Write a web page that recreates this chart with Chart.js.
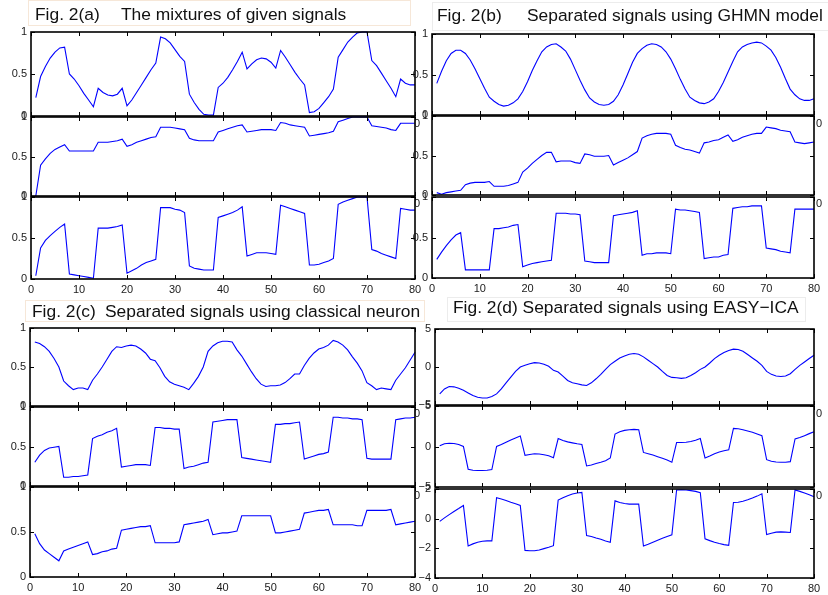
<!DOCTYPE html>
<html><head><meta charset="utf-8">
<script src="https://cdn.jsdelivr.net/npm/chart.js@4.4.1/dist/chart.umd.min.js"></script>
<style>
html,body{margin:0;padding:0;background:#fff;}
#wrap{position:relative;width:828px;height:595px;overflow:hidden;background:#fff;font-family:"Liberation Sans",Arial,Helvetica,sans-serif;}
#wrap canvas{position:absolute;left:0;top:0;}
.tbox{position:absolute;background:#fff;box-sizing:border-box;}
.tt{position:absolute;font-size:17.4px;line-height:17px;color:#111;white-space:pre;}
.st{position:absolute;font-size:11px;line-height:11px;color:#1a1a1a;white-space:pre;}
</style></head>
<body><div id="wrap"></div>
<script>
// ---- data ----
const steps = [1,2,3,4,5,6,7,8,9,10,11,12,13,14,15,16,17,18,19,20,21,22,23,24,25,26,27,28,29,30,31,32,33,34,35,36,37,38,39,40,41,42,43,44,45,46,47,48,49,50,51,52,53,54,55,56,57,58,59,60,61,62,63,64,65,66,67,68,69,70,71,72,73,74,75,76,77,78,79,80];
const xTickValues = [0,10,20,30,40,50,60,70,80];
const unitTicks = [0,0.5,1];
const easyTicks5 = [-5,0,5];
const easyTicks2 = [-4,-2,0,2];

// Fig. 2(a) mixtures
const mixture1 = [0.22,0.47,0.59,0.69,0.76,0.81,0.82,0.50,0.44,0.36, 0.27,0.19,0.11,0.33,0.28,0.25,0.24,0.26,0.33,0.12, 0.19,0.28,0.37,0.46,0.55,0.63,0.94,0.92,0.87,0.79, 0.71,0.65,0.26,0.16,0.08,0.02,0.01,0.01,0.34,0.39, 0.46,0.55,0.65,0.76,0.56,0.62,0.67,0.69,0.68,0.64, 0.57,0.78,0.70,0.61,0.52,0.44,0.37,0.04,0.05,0.09, 0.16,0.23,0.32,0.70,0.79,0.88,0.94,0.99,1.0,1.0, 0.66,0.60,0.51,0.42,0.33,0.23,0.44,0.39,0.37,0.37];
const mixture2 = [0.0,0.39,0.47,0.54,0.59,0.62,0.65,0.57,0.57,0.57, 0.57,0.57,0.57,0.68,0.68,0.68,0.69,0.70,0.72,0.63, 0.65,0.68,0.70,0.72,0.74,0.75,0.87,0.87,0.87,0.86, 0.85,0.84,0.73,0.71,0.70,0.70,0.70,0.70,0.81,0.83, 0.85,0.87,0.89,0.90,0.81,0.82,0.83,0.84,0.84,0.84, 0.83,0.93,0.92,0.90,0.89,0.88,0.87,0.76,0.77,0.78, 0.79,0.80,0.82,0.94,0.96,0.98,1.0,1.0,1.0,1.0, 0.89,0.88,0.87,0.86,0.84,0.83,0.92,0.92,0.92,0.92];
const mixture3 = [0.04,0.38,0.47,0.53,0.58,0.63,0.67,0.06,0.05,0.04, 0.03,0.02,0.01,0.62,0.62,0.62,0.63,0.64,0.66,0.07, 0.10,0.13,0.17,0.20,0.22,0.24,0.87,0.87,0.87,0.85, 0.84,0.81,0.16,0.13,0.12,0.11,0.11,0.11,0.75,0.77, 0.79,0.81,0.84,0.88,0.28,0.30,0.32,0.32,0.32,0.31, 0.30,0.90,0.88,0.86,0.84,0.82,0.80,0.17,0.17,0.18, 0.20,0.22,0.25,0.91,0.94,0.96,0.98,1.0,1.0,1.0, 0.36,0.34,0.31,0.29,0.27,0.25,0.86,0.85,0.84,0.84];

// Fig. 2(b) GHMN model
const ghmn1 = [0.39,0.54,0.67,0.76,0.80,0.80,0.76,0.68,0.57,0.45, 0.33,0.22,0.17,0.13,0.11,0.12,0.15,0.20,0.29,0.41, 0.55,0.67,0.78,0.84,0.87,0.88,0.84,0.79,0.69,0.56, 0.43,0.31,0.21,0.16,0.13,0.12,0.13,0.17,0.25,0.37, 0.51,0.65,0.76,0.82,0.86,0.88,0.87,0.84,0.78,0.69, 0.57,0.44,0.32,0.22,0.18,0.15,0.14,0.16,0.20,0.29, 0.40,0.53,0.66,0.78,0.84,0.87,0.89,0.90,0.89,0.85, 0.80,0.71,0.59,0.45,0.32,0.25,0.20,0.18,0.18,0.20];
const ghmn2 = [0.03,0.01,0.03,0.04,0.05,0.06,0.13,0.15,0.16,0.16, 0.16,0.17,0.11,0.11,0.11,0.12,0.14,0.16,0.29,0.34, 0.40,0.45,0.50,0.54,0.54,0.42,0.43,0.43,0.43,0.41, 0.40,0.52,0.51,0.49,0.49,0.49,0.50,0.38,0.41,0.44, 0.47,0.51,0.55,0.72,0.75,0.77,0.78,0.78,0.78,0.77, 0.63,0.60,0.58,0.57,0.55,0.53,0.66,0.67,0.69,0.70, 0.73,0.76,0.68,0.70,0.73,0.75,0.77,0.78,0.78,0.86, 0.85,0.84,0.82,0.81,0.80,0.67,0.66,0.65,0.66,0.67];
const ghmn3 = [0.23,0.32,0.40,0.47,0.53,0.56,0.10,0.10,0.10,0.10, 0.10,0.10,0.61,0.61,0.62,0.63,0.65,0.66,0.14,0.16, 0.18,0.19,0.20,0.21,0.22,0.80,0.80,0.80,0.79,0.79, 0.78,0.21,0.20,0.19,0.19,0.19,0.19,0.77,0.78,0.79, 0.80,0.81,0.83,0.28,0.30,0.30,0.31,0.31,0.31,0.30, 0.85,0.84,0.84,0.83,0.82,0.81,0.24,0.25,0.26,0.26, 0.28,0.29,0.86,0.87,0.88,0.88,0.89,0.89,0.89,0.37, 0.36,0.35,0.33,0.32,0.31,0.85,0.85,0.85,0.85,0.85];

// Fig. 2(c) classical neuron
const classical1 = [0.82,0.80,0.76,0.70,0.61,0.50,0.32,0.26,0.21,0.23, 0.23,0.21,0.33,0.41,0.50,0.60,0.70,0.76,0.75,0.77, 0.78,0.77,0.73,0.68,0.60,0.58,0.49,0.38,0.31,0.28, 0.26,0.24,0.21,0.29,0.38,0.50,0.70,0.77,0.81,0.83, 0.83,0.82,0.72,0.64,0.54,0.44,0.35,0.28,0.25,0.26, 0.26,0.27,0.30,0.35,0.41,0.41,0.52,0.61,0.68,0.73, 0.75,0.78,0.84,0.82,0.78,0.72,0.63,0.55,0.45,0.30, 0.26,0.21,0.23,0.22,0.21,0.33,0.41,0.49,0.59,0.69];
const classical2 = [0.30,0.39,0.45,0.48,0.49,0.50,0.11,0.11,0.12,0.12, 0.13,0.14,0.60,0.63,0.65,0.68,0.70,0.73,0.24,0.25, 0.26,0.27,0.27,0.27,0.26,0.74,0.74,0.73,0.73,0.72, 0.72,0.22,0.24,0.25,0.27,0.29,0.30,0.81,0.82,0.83, 0.84,0.84,0.84,0.36,0.35,0.34,0.33,0.32,0.31,0.30, 0.78,0.78,0.79,0.79,0.80,0.81,0.34,0.36,0.38,0.40, 0.41,0.43,0.87,0.87,0.86,0.86,0.85,0.85,0.84,0.35, 0.34,0.34,0.34,0.34,0.34,0.84,0.85,0.86,0.86,0.87];
const classical3 = [0.48,0.37,0.30,0.26,0.22,0.18,0.29,0.31,0.33,0.35, 0.37,0.39,0.25,0.26,0.28,0.29,0.31,0.32,0.52,0.53, 0.54,0.55,0.56,0.56,0.57,0.38,0.38,0.38,0.38,0.38, 0.39,0.58,0.59,0.60,0.61,0.62,0.64,0.47,0.48,0.49, 0.49,0.50,0.51,0.68,0.68,0.68,0.68,0.68,0.68,0.68, 0.49,0.49,0.50,0.51,0.52,0.53,0.71,0.72,0.73,0.74, 0.74,0.75,0.58,0.58,0.58,0.58,0.58,0.57,0.57,0.74, 0.74,0.74,0.74,0.74,0.75,0.58,0.59,0.60,0.61,0.62];

// Fig. 2(d) EASY-ICA
const easy1 = [-3.54,-2.88,-2.57,-2.61,-2.79,-3.05,-3.41,-3.76,-3.98,-4.07, -4.07,-3.89,-3.54,-2.88,-2.08,-1.33,-0.58,0.0,0.22,0.44, 0.58,0.53,0.35,0.09,-0.44,-0.66,-1.19,-1.77,-2.08,-2.21, -2.35,-2.43,-2.08,-1.55,-0.97,-0.31,0.31,0.75,1.19,1.46, 1.68,1.77,1.68,1.33,0.88,0.44,0.0,-0.58,-1.11,-1.37, -1.42,-1.50,-1.42,-1.11,-0.75,-0.31,0.0,0.53,1.11,1.55, 1.90,2.17,2.35,2.30,2.08,1.64,1.19,0.75,0.22,-0.58, -0.97,-1.19,-1.24,-1.19,-0.88,-0.31,0.22,0.66,1.11,1.55];
const easy2 = [0.08,0.33,0.41,0.37,0.24,0.0,-2.80,-2.93,-2.97,-2.97, -2.93,-2.85,0.0,0.24,0.53,0.81,1.06,1.30,-1.10,-0.98, -0.89,-0.93,-1.02,-1.14,-1.38,0.98,0.73,0.57,0.45,0.33, 0.24,-2.40,-2.28,-2.11,-1.95,-1.75,-1.42,1.54,1.83,1.99, 2.07,2.11,2.07,-0.73,-0.89,-1.06,-1.26,-1.46,-1.67,-1.95, 0.49,0.49,0.53,0.61,0.77,0.98,-1.42,-1.18,-0.89,-0.69, -0.53,-0.41,2.24,2.20,2.07,1.91,1.75,1.54,1.34,-1.63, -1.83,-1.91,-1.95,-1.95,-1.87,0.93,1.10,1.34,1.59,1.83];
const easy3 = [-0.18,0.05,0.27,0.48,0.68,0.89,-1.84,-1.70,-1.59,-1.52, -1.50,-1.50,1.41,1.32,1.23,1.11,1.0,0.89,-2.14,-2.16, -2.16,-2.11,-2.02,-1.93,-1.82,1.25,1.41,1.55,1.66,1.73, 1.77,-1.14,-1.20,-1.30,-1.39,-1.50,-1.59,1.20,1.09,1.02, 0.98,0.98,0.98,-1.84,-1.73,-1.59,-1.45,-1.32,-1.20,-1.09, 1.93,1.95,1.93,1.89,1.84,1.75,-1.36,-1.48,-1.59,-1.68, -1.75,-1.80,1.09,1.11,1.18,1.27,1.39,1.52,1.68,-1.07, -0.98,-0.91,-0.89,-0.91,-0.93,1.93,1.84,1.73,1.61,1.48];

// ---- layout ----
const W = 828, H = 595;
const wrap = document.getElementById('wrap');
const FONT = '"Liberation Sans", Arial, Helvetica, sans-serif';

function fmt(v){ return v < 0 ? '\u2212' + (-v) : String(v); }

function boxPlugin(yTicks){
  return {
    id:'matlabBox',
    afterDatasetsDraw(chart){
      const {ctx, chartArea:a, scales:{x, y}} = chart;
      const tl = 4;
      ctx.save();
      ctx.strokeStyle = '#000';
      ctx.lineWidth = 1;
      ctx.beginPath();
      xTickValues.forEach(v => {
        const px = Math.round(x.getPixelForValue(v)) + 0.5;
        ctx.moveTo(px, a.top); ctx.lineTo(px, a.top + tl);
        ctx.moveTo(px, a.bottom); ctx.lineTo(px, a.bottom - tl);
      });
      yTicks.forEach(v => {
        const py = Math.round(y.getPixelForValue(v)) + 0.5;
        ctx.moveTo(a.left, py); ctx.lineTo(a.left + tl, py);
        ctx.moveTo(a.right, py); ctx.lineTo(a.right - tl, py);
      });
      ctx.stroke();
      ctx.lineWidth = 1.6;
      ctx.strokeRect(a.left, a.top, a.right - a.left, a.bottom - a.top);
      ctx.restore();
    }
  };
}

function makePlot(values, box, yMin, yMax, yTicks){
  const cv = document.createElement('canvas');
  cv.width = W; cv.height = H;
  cv.style.width = W + 'px'; cv.style.height = H + 'px';
  wrap.appendChild(cv);
  const yW = 25, xH = box.showX ? 14 : 0;
  new Chart(cv, {
    type:'line',
    data:{datasets:[{
      data: steps.map((t,i) => ({x:t, y:values[i]})),
      borderColor:'#0000ff', borderWidth:1.1, pointRadius:0, tension:0, fill:false, clip:3
    }]},
    options:{
      responsive:false, maintainAspectRatio:false, animation:false, devicePixelRatio:1,
      events:[],
      layout:{padding:{left: box.x0 - yW, right: W - box.x80, top: box.top, bottom: H - box.bottom - xH}},
      plugins:{legend:{display:false}, tooltip:{enabled:false}, title:{display:false}},
      scales:{
        x:{
          type:'linear', min:0, max:80, display: !!box.showX,
          afterBuildTicks: s => { s.ticks = xTickValues.map(v => ({value:v})); },
          afterFit: s => { s.height = xH; },
          grid:{display:false, drawTicks:false}, border:{display:false},
          ticks:{padding:4, color:'#1a1a1a', font:{family:FONT, size:11}, maxRotation:0, autoSkip:false}
        },
        y:{
          type:'linear', min:yMin, max:yMax,
          afterBuildTicks: s => { s.ticks = yTicks.map(v => ({value:v})); },
          afterFit: s => { s.width = yW; },
          grid:{display:false, drawTicks:false}, border:{display:false},
          ticks:{padding:4, color:'#1a1a1a', font:{family:FONT, size:11}, autoSkip:false, callback: v => fmt(v)}
        }
      }
    },
    plugins:[boxPlugin(yTicks)]
  });
}

// Panel (a)
makePlot(mixture1, {x0:31, x80:415, top:32, bottom:116}, 0, 1, unitTicks);
makePlot(mixture2, {x0:31, x80:415, top:117, bottom:196}, 0, 1, unitTicks);
makePlot(mixture3, {x0:31, x80:415, top:197, bottom:279, showX:true}, 0, 1, unitTicks);
// Panel (b)
makePlot(ghmn1, {x0:432, x80:814, top:34, bottom:115}, 0, 1, unitTicks);
makePlot(ghmn2, {x0:432, x80:814, top:116, bottom:195}, 0, 1, unitTicks);
makePlot(ghmn3, {x0:432, x80:814, top:197, bottom:278, showX:true}, 0, 1, unitTicks);
// Panel (c)
makePlot(classical1, {x0:30, x80:415, top:328, bottom:406}, 0, 1, unitTicks);
makePlot(classical2, {x0:30, x80:415, top:407, bottom:486}, 0, 1, unitTicks);
makePlot(classical3, {x0:30, x80:415, top:487, bottom:577, showX:true}, 0, 1, unitTicks);
// Panel (d)
makePlot(easy1, {x0:435, x80:814, top:329, bottom:405}, -5, 5, easyTicks5);
makePlot(easy2, {x0:435, x80:814, top:406, bottom:487}, -5, 5, easyTicks5);
makePlot(easy3, {x0:435, x80:814, top:489, bottom:578, showX:true}, -4, 2, easyTicks2);

// ---- titles ----
function addBox(l, t, w, h, color){
  const d = document.createElement('div');
  d.className = 'tbox';
  d.style.cssText = `left:${l}px;top:${t}px;width:${w}px;height:${h}px;border:1px solid ${color};`;
  wrap.appendChild(d);
}
function addText(txt, l, baseline){
  const s = document.createElement('div');
  s.className = 'tt';
  s.textContent = txt;
  s.style.left = l + 'px';
  s.style.top = (baseline - 14.5) + 'px';
  wrap.appendChild(s);
}
function addSmall(txt, l, centerY){
  const s = document.createElement('div');
  s.className = 'st';
  s.textContent = txt;
  s.style.left = l + 'px';
  s.style.top = (centerY - 6) + 'px';
  wrap.appendChild(s);
}
addBox(28, 0, 383, 26, '#f6e7d8');
addText('Fig. 2(a)', 35, 20);
addText('The mixtures of given signals', 121, 20);
addBox(432, 2, 400, 29, '#ececec');
addText('Fig. 2(b)', 437, 21);
addText('Separated signals using GHMN model', 527, 21);
addBox(25, 300, 400, 22, '#f6e7d8');
addText('Fig. 2(c)', 32, 317);
addText('Separated signals using classical neuron', 105, 317);
addBox(447, 297, 359, 25, '#ececec');
addText('Fig. 2(d) Separated signals using EASY\u2212ICA', 453, 313);

// leftover partial labels visible beside the right-hand panels
[124, 204, 414, 496].forEach(cy => { addSmall('0', 414, cy); addSmall('0', 816, cy); });
</script>
</body></html>
